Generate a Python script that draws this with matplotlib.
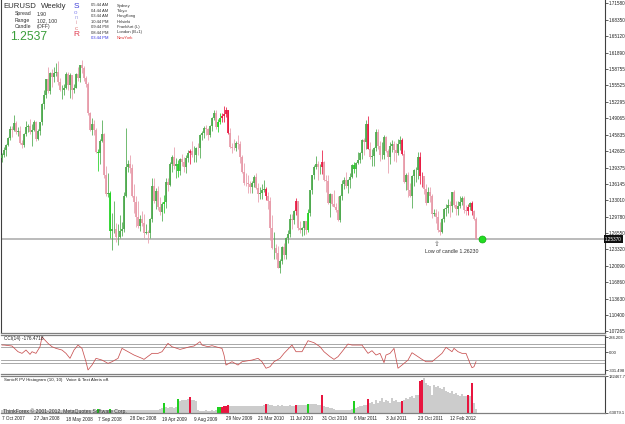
import numpy as np
import matplotlib.pyplot as plt

W, H = 625, 424
plt.rcParams['font.family'] = ['Liberation Sans', 'DejaVu Sans']

# weekly EURUSD bars, 7 Oct 2007 .. May 2012 (open = previous close)
first_open = 1.4120
closes = [
    1.4180, 1.4280, 1.4380, 1.4510, 1.4690, 1.4670, 1.4820, 1.4630, 1.4660, 1.4420, 1.4380, 1.4600, 1.4740,
    1.4750, 1.4630, 1.4680, 1.4830, 1.4500, 1.4660, 1.4830, 1.5180, 1.5360, 1.5670, 1.5440, 1.5800, 1.5720,
    1.5800, 1.5820, 1.5620, 1.5460, 1.5460, 1.5500, 1.5770, 1.5550, 1.5760, 1.5450, 1.5500, 1.5780, 1.5690,
    1.5940, 1.5880, 1.5700, 1.5580, 1.5000, 1.4680, 1.4790, 1.4680, 1.4250, 1.4230, 1.4460, 1.4590, 1.3800,
    1.3420, 1.3440, 1.2700, 1.2730, 1.2740, 1.2580, 1.2580, 1.2690, 1.2730, 1.3380, 1.3950, 1.4000, 1.3920,
    1.3380, 1.3270, 1.2960, 1.2800, 1.2930, 1.2860, 1.2660, 1.2670, 1.2660, 1.2920, 1.3580, 1.3290, 1.3480,
    1.3170, 1.3060, 1.3230, 1.3260, 1.3650, 1.3600, 1.4000, 1.4150, 1.3960, 1.4000, 1.3870, 1.4110, 1.4040,
    1.3950, 1.4130, 1.4220, 1.4260, 1.4180, 1.4190, 1.4330, 1.4320, 1.4570, 1.4620, 1.4710, 1.4690, 1.4580,
    1.4750, 1.4900, 1.5010, 1.4730, 1.4830, 1.4900, 1.4950, 1.4980, 1.5060, 1.4620, 1.4340, 1.4330, 1.4320,
    1.4410, 1.4390, 1.4140, 1.3860, 1.3640, 1.3630, 1.3610, 1.3560, 1.3630, 1.3760, 1.3530, 1.3410, 1.3440,
    1.3500, 1.3520, 1.3380, 1.3290, 1.2750, 1.2360, 1.2360, 1.2270, 1.1970, 1.2110, 1.2390, 1.2230, 1.2560,
    1.2640, 1.2930, 1.2910, 1.3090, 1.3280, 1.2760, 1.2710, 1.2760, 1.2890, 1.2720, 1.3050, 1.3490, 1.3790,
    1.3940, 1.4000, 1.3940, 1.3940, 1.4040, 1.3700, 1.3680, 1.3240, 1.3420, 1.3230, 1.3170, 1.3110,
    1.2910, 1.3380, 1.3620, 1.3690, 1.3580, 1.3700, 1.3750, 1.3990, 1.3900, 1.4030, 1.4090, 1.4230, 1.4480,
    1.4430, 1.4800, 1.4310, 1.4150, 1.4160, 1.4330, 1.4640, 1.4370, 1.4180, 1.4180, 1.4530,
    1.4260, 1.4140, 1.4370, 1.4400, 1.4290, 1.4230, 1.4390, 1.4470, 1.4200, 1.3650, 1.3790, 1.3500, 1.3390,
    1.3770, 1.3890, 1.3890, 1.4150, 1.3770, 1.3770, 1.3520, 1.3240, 1.3450, 1.3380, 1.3030, 1.3040, 1.2960,
    1.2720, 1.2680, 1.2930, 1.3130, 1.3150, 1.3200, 1.3180, 1.3450, 1.3200, 1.3120, 1.3180, 1.3270, 1.3340,
    1.3100, 1.3080, 1.3170, 1.3240, 1.3080, 1.2920, 1.2537,
]
highs = [
    1.4220, 1.4350, 1.4400, 1.4530, 1.4750, 1.4750, 1.4960, 1.4860, 1.4740, 1.4760, 1.4480, 1.4620, 1.4860,
    1.4790, 1.4880, 1.4790, 1.4870, 1.4860, 1.4700, 1.4840, 1.5200, 1.5460, 1.5680, 1.5900, 1.5810, 1.5860,
    1.5910, 1.5980, 1.6020, 1.5700, 1.5550, 1.5570, 1.5810, 1.5810, 1.5800, 1.5760, 1.5580, 1.5800, 1.5910,
    1.5950, 1.6040, 1.5920, 1.5730, 1.5620, 1.5020, 1.4900, 1.4870, 1.4720, 1.4310, 1.4500, 1.4870, 1.4610,
    1.3960, 1.3830, 1.3470, 1.3040, 1.3290, 1.2850, 1.2840, 1.3000, 1.2880, 1.3460, 1.4720, 1.4090, 1.4190,
    1.4000, 1.3610, 1.3380, 1.3280, 1.3010, 1.3080, 1.3020, 1.2830, 1.2720, 1.2950, 1.3740, 1.3740, 1.3530,
    1.3580, 1.3370, 1.3270, 1.3400, 1.3730, 1.3740, 1.4050, 1.4180, 1.4340, 1.4130, 1.4090, 1.4130, 1.4210,
    1.4140, 1.4190, 1.4290, 1.4310, 1.4450, 1.4360, 1.4350, 1.4420, 1.4590, 1.4660, 1.4760, 1.4780, 1.4720,
    1.4770, 1.4930, 1.5060, 1.5060, 1.4890, 1.5000, 1.5010, 1.5140, 1.5130, 1.5070, 1.4720, 1.4410, 1.4500,
    1.4460, 1.4580, 1.4460, 1.4180, 1.4030, 1.3840, 1.3800, 1.3670, 1.3670, 1.3790, 1.3830, 1.3630, 1.3550,
    1.3610, 1.3690, 1.3560, 1.3460, 1.3360, 1.3000, 1.2670, 1.2440, 1.2400, 1.2150, 1.2400, 1.2460, 1.2580,
    1.2720, 1.3030, 1.3030, 1.3100, 1.3340, 1.3280, 1.2900, 1.2780, 1.2900, 1.2890, 1.3130, 1.3500, 1.3800,
    1.3980, 1.4160, 1.4060, 1.4000, 1.4280, 1.4060, 1.3790, 1.3800, 1.3440, 1.3400, 1.3500, 1.3240,
    1.3390, 1.3400, 1.3690, 1.3760, 1.3860, 1.3710, 1.3830, 1.4010, 1.4040, 1.4040, 1.4250, 1.4250, 1.4490,
    1.4520, 1.4870, 1.4940, 1.4440, 1.4300, 1.4350, 1.4700, 1.4700, 1.4450, 1.4440, 1.4580,
    1.4550, 1.4300, 1.4440, 1.4480, 1.4450, 1.4420, 1.4490, 1.4550, 1.4520, 1.4280, 1.3840, 1.3850, 1.3640,
    1.3790, 1.3900, 1.3950, 1.4250, 1.4250, 1.3850, 1.3740, 1.3620, 1.3550, 1.3550, 1.3420, 1.3120, 1.3120,
    1.3080, 1.2880, 1.2940, 1.3140, 1.3230, 1.3320, 1.3290, 1.3460, 1.3490, 1.3290, 1.3280, 1.3380, 1.3390,
    1.3380, 1.3210, 1.3220, 1.3270, 1.3280, 1.3110, 1.2960,
]
lows = [
    1.4050, 1.4150, 1.4170, 1.4370, 1.4480, 1.4540, 1.4650, 1.4600, 1.4560, 1.4400, 1.4330, 1.4350, 1.4560,
    1.4630, 1.4590, 1.4360, 1.4650, 1.4450, 1.4470, 1.4580, 1.4770, 1.5080, 1.5300, 1.5400, 1.5370, 1.5520,
    1.5610, 1.5740, 1.5560, 1.5440, 1.5290, 1.5360, 1.5470, 1.5460, 1.5310, 1.5290, 1.5400, 1.5500, 1.5640,
    1.5610, 1.5800, 1.5630, 1.5520, 1.4960, 1.4660, 1.4580, 1.4580, 1.4220, 1.3880, 1.4000, 1.4430, 1.3730,
    1.3380, 1.3360, 1.2550, 1.2330, 1.2650, 1.2480, 1.2420, 1.2550, 1.2600, 1.2680, 1.3360, 1.3850, 1.3830,
    1.3360, 1.3040, 1.2780, 1.2750, 1.2690, 1.2800, 1.2560, 1.2640, 1.2460, 1.2550, 1.2880, 1.3250, 1.3120,
    1.3100, 1.3000, 1.2890, 1.3040, 1.3150, 1.3470, 1.3570, 1.3850, 1.3900, 1.3740, 1.3750, 1.3790, 1.3960,
    1.3850, 1.3840, 1.4040, 1.4000, 1.4140, 1.4050, 1.4050, 1.4180, 1.4130, 1.4470, 1.4520, 1.4580, 1.4480,
    1.4540, 1.4660, 1.4870, 1.4690, 1.4630, 1.4800, 1.4830, 1.4830, 1.4930, 1.4590, 1.4330, 1.4220, 1.4290,
    1.4260, 1.4300, 1.4030, 1.3840, 1.3590, 1.3580, 1.3440, 1.3440, 1.3430, 1.3560, 1.3510, 1.3270, 1.3330,
    1.3320, 1.3450, 1.3300, 1.3120, 1.2520, 1.2340, 1.2150, 1.2140, 1.1960, 1.1880, 1.2040, 1.2150, 1.2150,
    1.2460, 1.2580, 1.2730, 1.2830, 1.3000, 1.2720, 1.2660, 1.2590, 1.2620, 1.2640, 1.2670, 1.2990, 1.3420,
    1.3710, 1.3910, 1.3700, 1.3820, 1.3820, 1.3680, 1.3450, 1.3220, 1.2970, 1.3180, 1.3160, 1.3070,
    1.2900, 1.2870, 1.3300, 1.3520, 1.3540, 1.3430, 1.3540, 1.3740, 1.3830, 1.3750, 1.4000, 1.4020, 1.4110,
    1.4180, 1.4300, 1.4300, 1.4110, 1.3970, 1.3970, 1.4260, 1.4310, 1.4070, 1.4100, 1.4100,
    1.4240, 1.3840, 1.4010, 1.4250, 1.4060, 1.4050, 1.4180, 1.4290, 1.4180, 1.3640, 1.3500, 1.3370, 1.3360,
    1.3150, 1.3570, 1.3650, 1.3720, 1.3610, 1.3560, 1.3420, 1.3210, 1.3260, 1.3260, 1.2940, 1.2990, 1.2860,
    1.2670, 1.2620, 1.2660, 1.2880, 1.2980, 1.3040, 1.2970, 1.3070, 1.3160, 1.3010, 1.3000, 1.3140, 1.3210,
    1.3040, 1.3000, 1.3000, 1.3110, 1.3000, 1.2910, 1.2530,
]

# SonicR PV histogram, thousands, one value per bar (rows of 10)
volume_k = [
    -47, -47, -47, -47, -47, -47, -47, -47, -47, -47,
    -47, -47, -47, -47, -47, -47, -47, -47, -47, -47,
    -47, -47, -47, -47, -47, -47, -47, -47, -47, -47,
    -47, -47, -47, -47, -47, -47, -47, -47, -47, -47,
    -47, -47, -47, -47, -47, -47, -47, -47, -42, -42,
    -47, -47, -47, -47, -42, -47, -47, -47, -47, -47,
    -47, -47, -47, -47, -47, -47, -47, -47, -47, -47,
    -47, -47, -47, -47, -47, -47, -47, -47, -47, -42,
    -37, -10, -31, -37, -31, -31, -37, -31, 11, 0,
    6, 6, 6, 11, 21, 6, 6, 0, -47, -53,
    -53, -53, -47, -53, -53, -47, -53, -47, -31, -31,
    -31, -26, -26, -21, -26, -26, -26, -26, -26, -26,
    -26, -26, -26, -26, -26, -26, -26, -26, -26, -26,
    -26, -21, -16, -16, -21, -21, -26, -26, -21, -26,
    -21, -26, -26, -26, -21, -26, -26, -21, -21, -21,
    -21, -21, -21, -16, -16, -16, -16, -16, -21, -21,
    32, -26, -31, -31, -37, -37, -42, -47, -47, -47,
    -47, -47, -47, -47, -47, -42, 0, -37, -31, -26,
    -26, -21, -21, 11, -10, -5, -16, 6, -10, 0,
    16, -5, 6, 0, -10, 16, 0, 6, -5, -5,
    0, 6, 16, 11, 21, 27, 16, 32, 32, 106,
    111, 122, 95, 85, 80, 32, 85, 74, 80, 69,
    64, 74, 53, 48, 43, 53, 37, 43, 32, 27,
    37, 27, 27, 32, 27, 95, -10, -42,
]
red_bars = [94, 110, 111, 112, 113, 132, 147, 160, 183, 200, 209, 210, 233, 235]
green_bars = [48, 54, 81, 88, 108, 109, 153, 176]

# CCI(14) read at selected bars
cci_idx = [0, 1, 5, 8, 10, 12, 14, 15, 17, 19, 20, 23, 25, 27, 30, 32, 34, 36, 38, 40,
           42, 43, 45, 47, 50, 53, 55, 58, 60, 63, 66, 70, 71, 75, 78, 80, 83, 85, 89, 91,
           94, 96, 99, 100, 103, 105, 108, 110, 111, 112, 115, 118, 120, 125, 128, 130, 132, 134, 136, 139,
           141, 145, 147, 150, 153, 156, 159, 161, 164, 166, 168, 170, 173, 175, 180, 183, 185, 187, 189, 191,
           192, 194, 196, 198, 200, 203, 205, 208, 210, 212, 215, 217, 220, 222, 225, 226, 228, 230, 232, 234,
           235, 236, 237]
cci_val = [134, 134, 116, 10, -21, 41, -40, 10, -21, 103, 284, 166, 103, 72, 41, -21, -114, 41, 134, 72,
           -177, -331, -239, -114, -146, -208, -177, -114, 72, 10, -52, -114, -133, -21, -21, 10, 166, 103, 53, 72,
           103, 116, 197, 134, 103, 122, 91, 72, -52, -239, -177, -239, -177, -146, -114, -177, -299, -270, -177, -114,
           -21, 134, 10, 10, 215, 178, 103, 10, -83, -133, -83, 10, 153, 134, 134, -21, 29, -52, -21, -195,
           -52, -21, 72, -299, -239, -146, -9, -83, -133, -177, -177, -114, -21, 91, 10, 72, 10, -21, -21, -208,
           -289, -270, -176]
cci_levels = [150, 100, -150, -200]

price_ticks = [1.71580, 1.68350, 1.65120, 1.61890, 1.58755, 1.55525, 1.52295, 1.49065, 1.45835, 1.42605,
               1.39375, 1.36145, 1.33010, 1.29780, 1.26550, 1.23320, 1.20090, 1.16860, 1.13630, 1.10400, 1.07265]
date_labels = ['7 Oct 2007', '27 Jan 2008', '18 May 2008', '7 Sep 2008', '28 Dec 2008', '19 Apr 2009',
               '9 Aug 2009', '29 Nov 2009', '21 Mar 2010', '11 Jul 2010', '31 Oct 2010', '6 Mar 2011',
               '3 Jul 2011', '23 Oct 2011', '12 Feb 2012']
bid = 1.2537
cities = ['Sydney', 'Tokyo', 'HongKong', 'Helsinki', 'Frankfurt (L)', 'London (B+1)', 'NewYork']
times = ['05:44 AM', '04:44 AM', '03:44 AM', '10:44 PM', '09:44 PM', '08:44 PM', '03:44 PM']

n = len(closes)
assert len(highs) == n and len(lows) == n and len(volume_k) == n, (n, len(highs), len(lows), len(volume_k))
opens = [first_open] + closes[:-1]
x = np.arange(n)

UP, DN, RED, GRN = '#4aa84a', '#e799a8', '#e8153f', '#1ed01e'
cols = []
for i in range(n):
    if i in red_bars:
        cols.append(RED)
    elif i in green_bars:
        cols.append(GRN)
    else:
        cols.append(UP if closes[i] >= opens[i] else DN)


def box(l, t, r, b):
    return [l / W, 1 - b / H, (r - l) / W, (b - t) / H]


def ptext(px, py, s, **kw):
    kw.setdefault('va', 'center')
    fig.text(px / W, 1 - py / H, s, **kw)


fig = plt.figure(figsize=(W / 100, H / 100), dpi=100)
fig.patch.set_facecolor('white')
ax = fig.add_axes(box(1.5, 0, 605, 332.5))
axc = fig.add_axes(box(1.5, 334.5, 605, 373.5))
axv = fig.add_axes(box(1.5, 376, 605, 413))

x0 = -0.25
xlim = (x0, x0 + (605 - 1.5) / 2)
for a in (ax, axc, axv):
    a.set_xlim(*xlim)
    a.yaxis.tick_right()
    a.tick_params(axis='y', length=2, width=0.5, pad=1, labelsize=3.3, colors='#202020')
    a.tick_params(axis='x', length=0)
    a.set_xticks([])
    a.spines['top'].set_visible(False)
    a.spines['left'].set_visible(False)
    a.spines['right'].set_color('#404040')
    a.spines['right'].set_linewidth(0.8)
    a.spines['bottom'].set_color('#808080')
    a.spines['bottom'].set_linewidth(0.9)
ax.spines['left'].set_visible(True)
ax.spines['left'].set_color('#404040')
ax.spines['left'].set_linewidth(0.8)
for a in (axc, axv):
    a.spines['top'].set_visible(True)
    a.spines['top'].set_color('#808080')
    a.spines['top'].set_linewidth(0.9)
    a.tick_params(axis='y', labelsize=3.0)

# price panel
ylo, yhi = 1.07048, 1.72218
ax.set_ylim(ylo, yhi)
ax.set_yticks(price_ticks)
ax.set_yticklabels(['%.5f' % v for v in price_ticks])
ax.axhline(bid, color='#a8a8a8', lw=1.1, zorder=1)
ax.vlines(x, lows, highs, colors=cols, lw=0.55, zorder=2)
ax.vlines(x, np.minimum(opens, closes), np.maximum(opens, closes), colors=cols, lw=1.25, zorder=3)
ax.plot([n + 2], [bid], 'o', ms=5, color='#22dd22', mec='#11aa11', mew=0.5, zorder=4, clip_on=False)
ax.text(1.0, (bid - ylo) / (yhi - ylo), '%.5f' % bid, transform=ax.transAxes,
        fontsize=3.3, color='white', ha='left', va='center',
        bbox=dict(boxstyle='square,pad=0.25', fc='#101010', ec='none'))
ax.text(217.5, 1.2445, '\u21e7', ha='center', va='center', fontsize=5,
        color='#606060', family='DejaVu Sans')
ax.text(225, 1.2290, 'Low of candle 1.26230', ha='center', va='center', fontsize=3.8, color='#303030')

# CCI panel
axc.set_ylim(-396.8, 330.9)
for lv in cci_levels:
    axc.axhline(lv, color='#9a9a9a', lw=0.6, zorder=1)
axc.plot(cci_idx, cci_val, color='#c85050', lw=0.55, zorder=2)
axc.set_yticks([284.203, 0, -331.498])
axc.set_yticklabels(['284.203', '0.00', '-331.498'])
axc.text(1, 300, 'CCI(14) -176.4718', fontsize=3.4, va='top', color='#202020')

# volume panel
vmin, vmax = -63079.1, 132467.7
axv.set_ylim(vmin, vmax)
vcols = [RED if i in red_bars else GRN if i in green_bars else '#cccccc' for i in range(n)]
vals = np.array(volume_k) * 1000.0
axv.bar(x, vals - vmin, bottom=vmin, width=0.8, color=vcols, lw=0)
axv.set_yticks([vmax, vmin])
axv.set_yticklabels(['132467.7', '-63079.1'])
axv.text(1, vmax - 8000, 'SonicR PV Histogram (10, 10)   Voice & Text Alerts off.',
         fontsize=3.2, va='top', color='#202020')

# date axis
for k, lab in enumerate(date_labels):
    ptext(2 + 2 * 16 * k, 419, lab, fontsize=3.3, ha='left', color='#202020')
ptext(3, 411, 'ThinkForex \u00a9 2001-2012, MetaQuotes Software Corp.', fontsize=3.7, color='#303030')

# header block
ptext(3, 7, 'EURUSD', fontsize=5.6, color='#303030')
ptext(41, 7, 'Weekly', fontsize=5.6, color='#303030')
for j, (lab, val) in enumerate([('Spread', '1.90'), ('Range', '102, 100'), ('Candle', '(OFF)')]):
    ptext(15, 14 + 6.3 * j, lab, fontsize=3.7, color='#303030')
    ptext(37, 14 + 6.3 * j, val, fontsize=3.7, color='#303030')
ptext(10, 37, '1.2537', fontsize=8.7, color='#3a9e3a')
sonic = [('S', '#3c3cd8', 6), ('o', '#8a8af0', 12), ('n', '#a8a8e8', 17.5),
         ('i', '#e0a0a8', 22.5), ('c', '#e07878', 28), ('R', '#e03c50', 35)]
for ch, c, yy in sonic:
    ptext(76, yy, ch, fontsize=6 if ch in 'SR' else 4.5, color=c, ha='center')
for j, (t, c) in enumerate(zip(times, cities)):
    last = j == len(times) - 1
    ptext(91, 5.5 + 5.4 * j, t, fontsize=3.0, color='#3030e0' if last else '#303030')
    ptext(117, 5.5 + 5.4 * j, c, fontsize=3.0, color='#e03030' if last else '#303030')

fig.savefig('out.png', dpi=100)
